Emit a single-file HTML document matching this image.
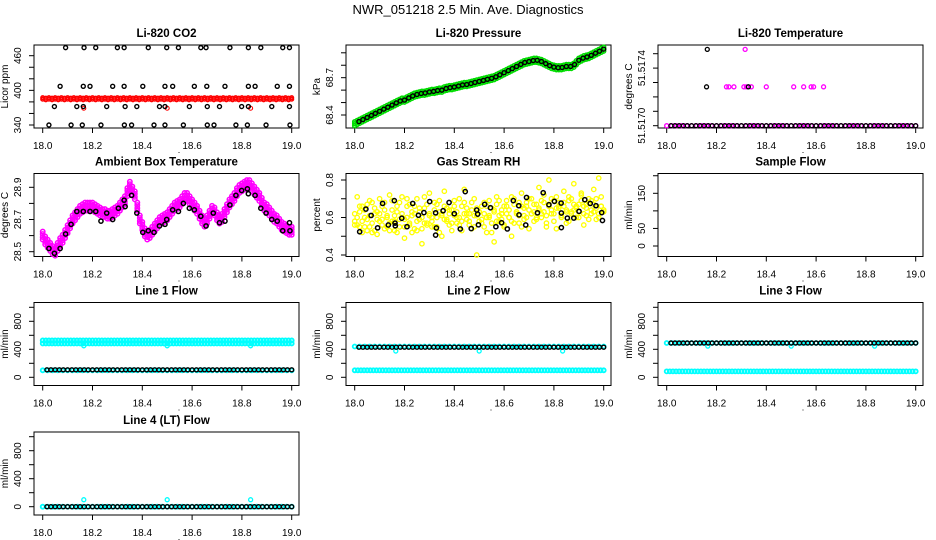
<!DOCTYPE html>
<html><head><meta charset="utf-8"><style>
html,body{margin:0;padding:0;background:#fff;}
svg{display:block;font-family:"Liberation Sans",sans-serif;}
</style></head><body>
<svg id="chart" width="936" height="540" viewBox="0 0 936 540" xmlns="http://www.w3.org/2000/svg">
<rect x="0" y="0" width="936" height="540" fill="#fff"/>
<text x="468" y="14" text-anchor="middle" font-size="13">NWR_051218  2.5 Min. Ave. Diagnostics</text>
</svg>
<script>
// ---------- data ----------
const xTicks = [18.0, 18.2, 18.4, 18.6, 18.8, 19.0];
const xTickLabels = ["18.0", "18.2", "18.4", "18.6", "18.8", "19.0"];
const blackTimes = [18.017,18.033,18.05,18.067,18.083,18.1,18.117,18.133,18.15,18.167,18.183,18.2,18.217,18.233,18.25,18.267,18.283,18.3,18.317,18.333,18.35,18.367,18.383,18.4,18.417,18.433,18.45,18.467,18.483,18.5,18.517,18.533,18.55,18.567,18.583,18.6,18.617,18.633,18.65,18.667,18.683,18.7,18.717,18.733,18.75,18.767,18.783,18.8,18.817,18.833,18.85,18.867,18.883,18.9,18.917,18.933,18.95,18.967,18.983,19.0];

// CO2
const co2Times = [18.092,18.166,18.213,18.300,18.327,18.424,18.498,18.545,18.635,18.656,18.752,18.826,18.876,18.964,18.991,
 18.070,18.163,18.190,18.281,18.327,18.402,18.491,18.522,18.609,18.659,18.732,18.826,18.853,18.942,18.991,
 18.047,18.137,18.163,18.257,18.331,18.378,18.469,18.491,18.589,18.661,18.710,18.799,18.826,18.920,18.991,
 18.025,18.114,18.159,18.234,18.328,18.357,18.447,18.491,18.565,18.661,18.688,18.776,18.822,18.897,18.993];
const co2Values = [474,474,474,474,474,474,474,474,474,474,474,474,474,474,474,
 407,407,407,407,407,407,407,407,407,407,407,407,407,407,407,
 372,372,372,372,372,372,372,372,372,372,372,372,372,372,372,
 340,340,340,340,340,340,340,340,340,340,340,340,340,340,340];
const co2Red = [386,385,386,385,386,385,386,385,386,385,386,385,386,385,386,385,386,385,386,385,386,385,386,385,386,385,386,385,386,385,386,385,386,385,386,385,386,385,386,385,386,385,386,385,386,385,386,385,386,385,386,385,386,385,386,385,386,385,386,385,386,385,386,385,386,385,386,385,386,385,386,385,386,385,386,385,386,385,386,385,386];
const co2RedDipT = [18.165,18.5,18.835];
const co2RedDipV = [369,369,369];

// Pressure
const presGreen = [68.33,68.34,68.35,68.36,68.37,68.38,68.39,68.40,68.41,68.42,68.43,68.44,68.45,68.46,68.47,68.48,68.49,68.50,68.51,68.52,68.52,68.53,68.54,68.55,68.56,68.565,68.57,68.575,68.575,68.58,68.585,68.59,68.59,68.595,68.60,68.60,68.61,68.615,68.62,68.62,68.625,68.63,68.635,68.64,68.645,68.645,68.65,68.655,68.66,68.665,68.67,68.675,68.68,68.685,68.69,68.695,68.70,68.71,68.72,68.73,68.74,68.75,68.76,68.77,68.78,68.79,68.80,68.81,68.82,68.825,68.83,68.835,68.84,68.84,68.835,68.83,68.82,68.81,68.80,68.79,68.785,68.78,68.78,68.78,68.785,68.79,68.79,68.79,68.80,68.82,68.84,68.85,68.86,68.865,68.87,68.88,68.89,68.90,68.91,68.92,68.93];
const presBlack = [68.347,68.363,68.38,68.397,68.413,68.43,68.447,68.463,68.48,68.497,68.513,68.52,68.537,68.553,68.565,68.573,68.577,68.585,68.59,68.597,68.60,68.613,68.62,68.625,68.633,68.642,68.645,68.653,68.662,68.67,68.678,68.687,68.695,68.707,68.723,68.74,68.757,68.773,68.79,68.807,68.822,68.83,68.838,68.84,68.83,68.813,68.797,68.785,68.78,68.782,68.79,68.79,68.806,68.84,68.857,68.867,68.88,68.897,68.913,68.93];

// Li-820 temperature
const tempMagenta = [51.517,51.517,51.517,51.517,51.517,51.517,51.517,51.517,51.517,51.517,51.517,51.517,51.517,51.517,51.517,51.517,51.517,51.517,51.517,51.517,51.517,51.517,51.517,51.517,51.517,51.517,51.517,51.517,51.517,51.517,51.517,51.517,51.517,51.517,51.517,51.517,51.517,51.517,51.517,51.517,51.517,51.517,51.517,51.517,51.517,51.517,51.517,51.517,51.517,51.517,51.517];
const tempMagExtraT = [18.24,18.25,18.27,18.31,18.32,18.34,18.40,18.51,18.55,18.58,18.59,18.63,18.315];
const tempMagExtraV = [51.51727,51.51727,51.51727,51.51727,51.51727,51.51727,51.51727,51.51727,51.51727,51.51727,51.51727,51.51727,51.51753];
const tempBlack = [51.517,51.517,51.517,51.517,51.517,51.517,51.517,51.517,51.517,51.517,51.517,51.517,51.517,51.517,51.517,51.517,51.517,51.517,51.517,51.517,51.517,51.517,51.517,51.517,51.517,51.517,51.517,51.517,51.517,51.517,51.517,51.517,51.517,51.517,51.517,51.517,51.517,51.517,51.517,51.517,51.517,51.517,51.517,51.517,51.517,51.517,51.517,51.517,51.517,51.517,51.517,51.517,51.517,51.517,51.517,51.517,51.517,51.517,51.517,51.517];
const tempBlackExtraT = [18.163,18.16,18.328];
const tempBlackExtraV = [51.51753,51.51727,51.51727];

// Ambient box temperature
const ambMagenta = [28.60,28.57,28.55,28.53,28.51,28.50,28.53,28.56,28.58,28.61,28.64,28.67,28.70,28.72,28.74,28.76,28.77,28.78,28.78,28.78,28.78,28.77,28.76,28.75,28.74,28.74,28.73,28.73,28.74,28.75,28.76,28.78,28.80,28.82,28.87,28.91,28.88,28.85,28.78,28.70,28.66,28.62,28.60,28.61,28.63,28.65,28.67,28.69,28.70,28.71,28.72,28.74,28.76,28.78,28.79,28.80,28.82,28.84,28.84,28.82,28.80,28.78,28.76,28.73,28.70,28.68,28.70,28.73,28.76,28.75,28.72,28.70,28.71,28.74,28.77,28.80,28.82,28.84,28.87,28.89,28.90,28.91,28.92,28.92,28.90,28.88,28.86,28.84,28.81,28.78,28.77,28.75,28.73,28.71,28.70,28.68,28.66,28.65,28.64,28.63,28.63];
const ambBlackT = [18.025,18.047,18.07,18.092,18.114,18.137,18.163,18.19,18.213,18.234,18.257,18.281,18.304,18.327,18.331,18.357,18.378,18.402,18.424,18.447,18.469,18.491,18.498,18.522,18.545,18.565,18.589,18.609,18.635,18.656,18.685,18.71,18.732,18.752,18.776,18.799,18.822,18.826,18.853,18.876,18.897,18.92,18.942,18.964,18.991,18.993];
const ambBlackV = [28.52,28.49,28.52,28.61,28.67,28.75,28.75,28.75,28.75,28.69,28.74,28.70,28.77,28.82,28.78,28.85,28.74,28.62,28.63,28.62,28.66,28.67,28.70,28.76,28.75,28.80,28.77,28.76,28.72,28.66,28.74,28.68,28.69,28.79,28.85,28.88,28.89,28.86,28.85,28.77,28.74,28.70,28.69,28.63,28.68,28.63];

// Gas stream RH
const rhYellowA = [0.58,0.71,0.55,0.66,0.60,0.53,0.69,0.57,0.62,0.51,0.70,0.59,0.64,0.55,0.72,0.58,0.61,0.52,0.68,0.60,0.49,0.66,0.57,0.63,0.54,0.70,0.59,0.46,0.65,0.56,0.73,0.60,0.55,0.67,0.52,0.62,0.74,0.58,0.64,0.53,0.69,0.60,0.56,0.66,0.75,0.59,0.62,0.54,0.70,0.40,0.63,0.57,0.68,0.52,0.61,0.65,0.47,0.71,0.58,0.64,0.55,0.69,0.60,0.50,0.67,0.62,0.57,0.73,0.61,0.66,0.54,0.70,0.63,0.59,0.76,0.62,0.68,0.55,0.80,0.64,0.58,0.71,0.66,0.61,0.74,0.57,0.69,0.63,0.78,0.60,0.67,0.72,0.56,0.65,0.70,0.62,0.75,0.59,0.81,0.66,0.63];
const rhYellowB = [0.62,0.56,0.66,0.52,0.64,0.59,0.55,0.68,0.53,0.63,0.58,0.66,0.54,0.61,0.57,0.69,0.53,0.63,0.59,0.71,0.55,0.60,0.67,0.52,0.62,0.58,0.65,0.54,0.71,0.57,0.61,0.55,0.68,0.60,0.63,0.50,0.66,0.59,0.56,0.64,0.61,0.57,0.70,0.53,0.62,0.65,0.58,0.68,0.55,0.61,0.63,0.59,0.55,0.66,0.60,0.52,0.64,0.58,0.69,0.62,0.56,0.66,0.60,0.71,0.57,0.63,0.68,0.55,0.65,0.60,0.70,0.62,0.58,0.67,0.64,0.60,0.72,0.57,0.66,0.62,0.69,0.54,0.65,0.61,0.68,0.63,0.58,0.70,0.64,0.66,0.60,0.73,0.62,0.67,0.59,0.69,0.63,0.65,0.60,0.71,0.64];
const rhYellowC = [0.56,0.60,0.63,0.58,0.55,0.67,0.61,0.52,0.65,0.59,0.62,0.56,0.68,0.60,0.53,0.64,0.58,0.66,0.55,0.62,0.59,0.70,0.56,0.61,0.66,0.53,0.63,0.60,0.57,0.67,0.62,0.58,0.64,0.55,0.69,0.61,0.59,0.65,0.62,0.57,0.66,0.63,0.60,0.58,0.68,0.62,0.56,0.64,0.61,0.65,0.58,0.66,0.62,0.60,0.69,0.57,0.63,0.67,0.61,0.59,0.66,0.62,0.64,0.58,0.70,0.63,0.61,0.66,0.59,0.68,0.64,0.62,0.67,0.60,0.65,0.69,0.63,0.61,0.67,0.70,0.62,0.65,0.68,0.60,0.66,0.64,0.71,0.62,0.67,0.65,0.63,0.69,0.66,0.61,0.68,0.64,0.67,0.70,0.62,0.66,0.64];
const rhBlackT = [18.02,18.045,18.066,18.092,18.112,18.135,18.159,18.162,18.163,18.189,18.21,18.233,18.256,18.278,18.301,18.325,18.328,18.325,18.355,18.379,18.4,18.424,18.444,18.468,18.49,18.494,18.497,18.522,18.545,18.567,18.59,18.613,18.637,18.659,18.66,18.687,18.69,18.734,18.757,18.78,18.802,18.829,18.83,18.83,18.854,18.88,18.901,18.924,18.946,18.969,18.992,18.995];
const rhBlackV = [0.524,0.645,0.611,0.545,0.675,0.56,0.69,0.57,0.556,0.596,0.551,0.675,0.612,0.626,0.685,0.625,0.544,0.506,0.636,0.68,0.62,0.539,0.738,0.541,0.64,0.618,0.561,0.67,0.652,0.551,0.572,0.539,0.69,0.663,0.614,0.56,0.707,0.625,0.732,0.668,0.686,0.677,0.624,0.546,0.597,0.597,0.633,0.695,0.675,0.663,0.626,0.584];

// Flows
const line1Cyan = [505,505,505,505,505,505,505,505,505,505,505,505,505,505,505,505,505,505,505,505,505,505,505,505,505,505,505,505,505,505,505,505,505,505,505,505,505,505,505,505,505,505,505,505,505,505,505,505,505,505,505,505,505,505,505,505,505,505,505,505,505,505,505,505,505,505,505,505,505,505,505,505,505,505,505,505,505,505,505,505,505];
const line1CyanLow = [100,100,100,100,100,100,100,100,100,100,100,100,100,100,100,100,100,100,100,100,100,100,100,100,100,100,100,100,100,100,100,100,100,100,100,100,100,100,100,100,100,100,100,100,100,100,100,100,100,100,100];
const line1Black = [107,107,107,107,107,107,107,107,107,107,107,107,107,107,107,107,107,107,107,107,107,107,107,107,107,107,107,107,107,107,107,107,107,107,107,107,107,107,107,107,107,107,107,107,107,107,107,107,107,107,107,107,107,107,107,107,107,107,107,107];
const line1DipV = [450,450,450];
const line2Cyan = [440,440,440,440,440,440,440,440,440,440,440,440,440,440,440,440,440,440,440,440,440,440,440,440,440,440,440,440,440,440,440,440,440,440,440,440,440,440,440,440,440,440,440,440,440,440,440,440,440,440,440];
const line2CyanLow = [100,100,100,100,100,100,100,100,100,100,100,100,100,100,100,100,100,100,100,100,100,100,100,100,100,100,100,100,100,100,100,100,100,100,100,100,100,100,100,100,100,100,100,100,100,100,100,100,100,100,100,100,100,100,100,100,100,100,100,100,100,100,100,100,100,100,100,100,100,100,100,100,100,100,100,100,100,100,100,100,100];
const line2Black = [430,430,430,430,430,430,430,430,430,430,430,430,430,430,430,430,430,430,430,430,430,430,430,430,430,430,430,430,430,430,430,430,430,430,430,430,430,430,430,430,430,430,430,430,430,430,430,430,430,430,430,430,430,430,430,430,430,430,430,430];
const line2DipV = [375,375,375];
const line3Cyan = [490,490,490,490,490,490,490,490,490,490,490,490,490,490,490,490,490,490,490,490,490,490,490,490,490,490,490,490,490,490,490,490,490,490,490,490,490,490,490,490,490,490,490,490,490,490,490,490,490,490,490];
const line3CyanLow = [85,85,85,85,85,85,85,85,85,85,85,85,85,85,85,85,85,85,85,85,85,85,85,85,85,85,85,85,85,85,85,85,85,85,85,85,85,85,85,85,85,85,85,85,85,85,85,85,85,85,85,85,85,85,85,85,85,85,85,85,85,85,85,85,85,85,85,85,85,85,85,85,85,85,85,85,85,85,85,85,85];
const line3Black = [490,490,490,490,490,490,490,490,490,490,490,490,490,490,490,490,490,490,490,490,490,490,490,490,490,490,490,490,490,490,490,490,490,490,490,490,490,490,490,490,490,490,490,490,490,490,490,490,490,490,490,490,490,490,490,490,490,490,490,490];
const line3DipV = [445,445,445];
const line4Cyan = [0,0,0,0,0,0,0,0,0,0,0,0,0,0,0,0,0,0,0,0,0,0,0,0,0,0,0,0,0,0,0,0,0,0,0,0,0,0,0,0,0,0,0,0,0,0,0,0,0,0,0];
const line4Black = [0,0,0,0,0,0,0,0,0,0,0,0,0,0,0,0,0,0,0,0,0,0,0,0,0,0,0,0,0,0,0,0,0,0,0,0,0,0,0,0,0,0,0,0,0,0,0,0,0,0,0,0,0,0,0,0,0,0,0,0];
const line4SpikeV = [100,100,100];
const dipTimes = [18.165,18.5,18.835];

// ---------- drawing ----------
const NS = "http://www.w3.org/2000/svg";
const svg = document.getElementById("chart");
const cols = [34, 346, 658], rows = [45, 173.5, 302.5, 432], W = 265, H = 83;
function px(c, t) { return cols[c] + 8.7 + (t - 18) * 249; }
function mk(tag, attrs, parent) {
  const e = document.createElementNS(NS, tag);
  for (const k in attrs) e.setAttribute(k, attrs[k]);
  (parent || svg).appendChild(e);
  return e;
}

const panels = [
  {c:0,r:0,title:"Li-820 CO2",ylab:"Licor ppm",y:v=>rows[0]+80-(v-340)*69.3/120,ticks:[340,360,380,400,420,440,460],labels:{340:"340",400:"400",460:"460"}},
  {c:1,r:0,title:"Li-820 Pressure",ylab:"kPa",y:v=>rows[0]+70-(v-68.4)*124.4,ticks:[68.4,68.5,68.6,68.7,68.8,68.9],labels:{68.4:"68.4",68.7:"68.7"}},
  {c:2,r:0,title:"Li-820 Temperature",ylab:"degrees C",y:v=>rows[0]+80.7-(v-51.517)*144000,ticks:[51.517,51.5171,51.5172,51.5173,51.5174,51.5175],labels:{51.517:"51.5170",51.5174:"51.5174"}},
  {c:0,r:1,title:"Ambient Box Temperature",ylab:"degrees C",y:v=>rows[1]+78.2-(v-28.5)*161,ticks:[28.5,28.6,28.7,28.8,28.9],labels:{28.5:"28.5",28.7:"28.7",28.9:"28.9"}},
  {c:1,r:1,title:"Gas Stream RH",ylab:"percent",y:v=>rows[1]+81.5-(v-0.4)*187.5,ticks:[0.4,0.5,0.6,0.7,0.8],labels:{0.4:"0.4",0.6:"0.6",0.8:"0.8"}},
  {c:2,r:1,title:"Sample Flow",ylab:"ml/min",y:v=>rows[1]+72.5-v*0.3513,ticks:[0,50,100,150,200],labels:{0:"0",50:"50",150:"150"}},
  {c:0,r:2,title:"Line 1 Flow",ylab:"ml/min",y:v=>rows[2]+74.8-v*0.07,ticks:[0,200,400,600,800,1000],labels:{0:"0",400:"400",800:"800"}},
  {c:1,r:2,title:"Line 2 Flow",ylab:"ml/min",y:v=>rows[2]+74.8-v*0.07,ticks:[0,200,400,600,800,1000],labels:{0:"0",400:"400",800:"800"}},
  {c:2,r:2,title:"Line 3 Flow",ylab:"ml/min",y:v=>rows[2]+74.8-v*0.07,ticks:[0,200,400,600,800,1000],labels:{0:"0",400:"400",800:"800"}},
  {c:0,r:3,title:"Line 4 (LT) Flow",ylab:"ml/min",y:v=>rows[3]+74.7-v*0.07,ticks:[0,200,400,600,800,1000],labels:{0:"0",400:"400",800:"800"}}
];

const groups = [];
panels.forEach((p, idx) => {
  const L = cols[p.c], T = rows[p.r];
  const g = mk("g", {});
  
  
  groups.push(g);
  const tt = mk("text", {x: L + W/2, y: T - 8, "text-anchor": "middle", "font-size": 11.5, "font-weight": "bold"}, g);
  tt.textContent = p.title;
  
  
  const box = mk("rect", {x: L, y: T, width: W, height: H, fill: "none", stroke: "#000", "stroke-width": 1}, g);
  
  
  xTicks.forEach((t, i) => {
    const x = px(p.c, t);
    const tk = mk("line", {x1: x, x2: x, y1: T + H, y2: T + H + 5, stroke: "#000"}, g);
    
    
    const lb = mk("text", {x: x, y: T + H + 21, "text-anchor": "middle", "font-size": 10}, g);
    lb.textContent = xTickLabels[i];
    
    
  });
  const dot = mk("text", {x: L + 145, y: T + H + 25, "text-anchor": "middle", "font-size": 9}, g);
  dot.textContent = ".";
  
  
  p.ticks.forEach(v => {
    const y = p.y(v);
    const tk = mk("line", {x1: L - 5, x2: L, y1: y, y2: y, stroke: "#000"}, g);
    
    
    if (p.labels[v] !== undefined) {
      const lb = mk("text", {x: 0, y: 0, "text-anchor": "middle", "font-size": 10, transform: `translate(${L - 13},${y}) rotate(-90)`}, g);
      lb.textContent = p.labels[v];
      
      
    }
  });
  const yl = mk("text", {x: 0, y: 0, "text-anchor": "middle", "font-size": 10, transform: `translate(${L - 26},${T + H/2}) rotate(-90)`}, g);
  yl.textContent = p.ylab;
  
  
});

function pts(pi, times, vals, color, r, sw, name, offs) {
  const p = panels[pi];
  const g = groups[pi];
  (offs || [0]).forEach(o => {
    vals.forEach((v, i) => {
      const t = times ? times[i] : 18 + i / (vals.length - 1);
      const c = mk("circle", {cx: px(p.c, t), cy: p.y(v) + o, r: r, fill: "none", stroke: color, "stroke-width": sw}, g);
      
      
    });
  });
}
const RED = "#ff0000", GRN = "#00dd00", MAG = "#ff00ff", YEL = "#ffff00", CYN = "#00ffff", BLK = "#000";

pts(0, null, co2Red, RED, 1.8, 1.5, 'co2-red-point', [-0.8, 0.8]);
pts(0, co2RedDipT, co2RedDipV, RED, 2, 1.1, 'co2-red-point');
pts(0, co2Times, co2Values, BLK, 2, 1.4, 'co2-black-point');

pts(1, null, presGreen, GRN, 2, 1.5, 'pressure-green-point', [-2, 0, 2]);
pts(1, blackTimes, presBlack, BLK, 2, 1.4, 'pressure-black-point');

pts(2, null, tempMagenta, MAG, 2, 1.4, 'temperature-magenta-point');
pts(2, tempMagExtraT, tempMagExtraV, MAG, 2, 1.3, 'temperature-magenta-point');
pts(2, blackTimes, tempBlack, BLK, 2, 1.3, 'temperature-black-point');
pts(2, tempBlackExtraT, tempBlackExtraV, BLK, 2, 1.3, 'temperature-black-point');

pts(3, null, ambMagenta, MAG, 2.2, 1.5, 'ambient-magenta-point', [-4, -1.5, 1.5, 4]);
pts(3, ambBlackT, ambBlackV, BLK, 2.1, 1.5, 'ambient-black-point');

pts(4, null, rhYellowA, YEL, 2.2, 1.3, 'rh-yellow-point');
pts(4, null, rhYellowB, YEL, 2.2, 1.3, 'rh-yellow-point');
pts(4, null, rhYellowC, YEL, 2.2, 1.3, 'rh-yellow-point');
pts(4, rhBlackT, rhBlackV, BLK, 2.1, 1.5, 'rh-black-point');

pts(6, null, line1Cyan, CYN, 2, 1.8, 'line1-cyan-point', [-1.5, 1.5]);
pts(6, null, line1CyanLow, CYN, 2, 1.8, 'line1-cyan-low-point');
pts(6, dipTimes, line1DipV, CYN, 2, 1.3, 'line1-cyan-dip');
pts(6, blackTimes, line1Black, BLK, 2, 1.4, 'line1-black-point');

pts(7, null, line2Cyan, CYN, 2, 1.8, 'line2-cyan-point');
pts(7, null, line2CyanLow, CYN, 2, 1.8, 'line2-cyan-low-point');
pts(7, dipTimes, line2DipV, CYN, 2, 1.3, 'line2-cyan-dip');
pts(7, blackTimes, line2Black, BLK, 2, 1.4, 'line2-black-point');

pts(8, null, line3Cyan, CYN, 2, 1.8, 'line3-cyan-point');
pts(8, null, line3CyanLow, CYN, 2, 1.8, 'line3-cyan-low-point');
pts(8, dipTimes, line3DipV, CYN, 2, 1.3, 'line3-cyan-dip');
pts(8, blackTimes, line3Black, BLK, 2, 1.4, 'line3-black-point');

pts(9, null, line4Cyan, CYN, 2, 1.8, 'line4-cyan-point');
pts(9, dipTimes, line4SpikeV, CYN, 2, 1.3, 'line4-cyan-spike');
pts(9, blackTimes, line4Black, BLK, 2, 1.4, 'line4-black-point');
</script>
</body></html>
